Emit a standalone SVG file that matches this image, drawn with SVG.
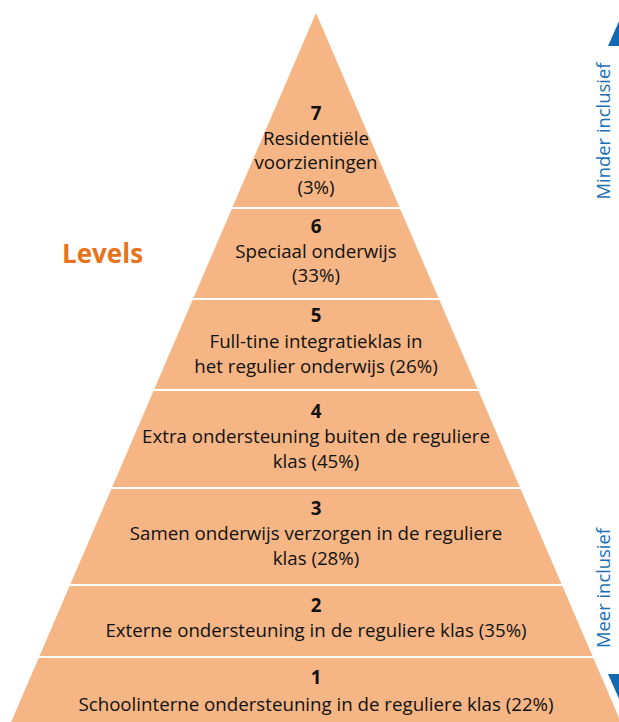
<svg xmlns="http://www.w3.org/2000/svg" width="619" height="722" viewBox="0 0 619 722">
  <style>
    .tier { fill: #F5B585; }
    .sep { stroke: #FFFFFF; stroke-width: 2; }
    .num { font-family: "Open Sans", "Noto Sans", sans-serif; font-size: 18.7px; font-weight: bold; fill: #111111; text-anchor: middle; }
    .lbl { font-family: "Open Sans", "Noto Sans", sans-serif; font-size: 18.7px; fill: #111111; text-anchor: middle; }
    .axis { font-family: "Open Sans", "Noto Sans", sans-serif; font-size: 18.4px; fill: #1A6FB5; text-anchor: middle; }
    .arrow { fill: #1368B3; }
  </style>

  <!-- Pyramid tiers, bottom (1) to top (7) -->
  <g id="level-1">
    <polygon class="tier" points="39.1,657 592.9,657 624.3,730 7.7,730"/>
    <text class="num" x="316" y="684">1</text>
    <text class="lbl" x="316" y="711">Schoolinterne ondersteuning in de reguliere klas (22%)</text>
  </g>
  <g id="level-2">
    <polygon class="tier" points="70,585 562,585 592.9,657 39.1,657"/>
    <text class="num" x="316" y="612">2</text>
    <text class="lbl" x="316" y="637">Externe ondersteuning in de reguliere klas (35%)</text>
  </g>
  <g id="level-3">
    <polygon class="tier" points="111.8,488 520.2,488 562,585 70,585"/>
    <text class="num" x="316" y="515">3</text>
    <text class="lbl" x="316" y="540">Samen onderwijs verzorgen in de reguliere</text>
    <text class="lbl" x="316" y="565">klas (28%)</text>
  </g>
  <g id="level-4">
    <polygon class="tier" points="153.9,390 478.1,390 520.2,488 111.8,488"/>
    <text class="num" x="316" y="418">4</text>
    <text class="lbl" x="316" y="443">Extra ondersteuning buiten de reguliere</text>
    <text class="lbl" x="316" y="468">klas (45%)</text>
  </g>
  <g id="level-5">
    <polygon class="tier" points="193,299 439,299 478.1,390 153.9,390"/>
    <text class="num" x="316" y="322">5</text>
    <text class="lbl" x="316" y="348">Full-tine integratieklas in</text>
    <text class="lbl" x="316" y="373">het regulier onderwijs (26%)</text>
  </g>
  <g id="level-6">
    <polygon class="tier" points="232.2,208 399.8,208 439,299 193,299"/>
    <text class="num" x="316" y="233">6</text>
    <text class="lbl" x="316" y="258">Speciaal onderwijs</text>
    <text class="lbl" x="316" y="282">(33%)</text>
  </g>
  <g id="level-7">
    <polygon class="tier" points="316,13 399.8,208 232.2,208"/>
    <text class="num" x="316" y="120">7</text>
    <text class="lbl" x="316" y="145">Residentiële</text>
    <text class="lbl" x="316" y="169">voorzieningen</text>
    <text class="lbl" x="316" y="194">(3%)</text>
  </g>

  <!-- White dividers between tiers -->
  <g id="dividers">
    <line class="sep" x1="225" y1="208" x2="407" y2="208"/>
    <line class="sep" x1="186" y1="299" x2="446" y2="299"/>
    <line class="sep" x1="147" y1="390" x2="485" y2="390"/>
    <line class="sep" x1="105" y1="488" x2="527" y2="488"/>
    <line class="sep" x1="63" y1="585" x2="569" y2="585"/>
    <line class="sep" x1="32" y1="657" x2="600" y2="657"/>
  </g>

  <!-- Title -->
  <g id="title">
    <text x="62" y="263" font-family="'Open Sans', 'Noto Sans', sans-serif" font-size="26" font-weight="bold" fill="#E8731A">Levels</text>
  </g>

  <!-- Inclusiveness axis on the right -->
  <g id="axis">
    <polygon class="arrow" points="620,19 632,46 608,46"/>
    <polygon class="arrow" points="608,674 632,674 620,701"/>
    <text class="axis" transform="translate(610,131) rotate(-90)">Minder inclusief</text>
    <text class="axis" transform="translate(610,588) rotate(-90)">Meer inclusief</text>
  </g>
</svg>
